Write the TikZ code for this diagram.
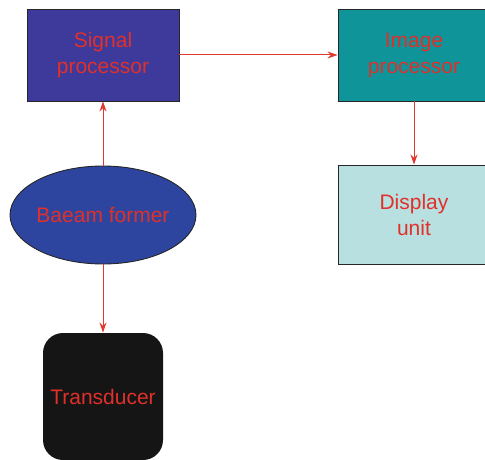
\documentclass[tikz,border=0pt]{standalone}
\usepackage{fontspec}
\setmainfont{Liberation Sans}
\usetikzlibrary{arrows.meta,shapes.geometric}
\definecolor{txtred}{HTML}{E0302A}
\definecolor{sigfill}{HTML}{3D3A9C}
\definecolor{imgfill}{HTML}{0E9499}
\definecolor{dispfill}{HTML}{B9E0E0}
\definecolor{beamfill}{HTML}{2E45A0}
\definecolor{trfill}{HTML}{151515}
\definecolor{arrred}{HTML}{E03A30}
\tikzset{
  blk/.style={draw=black!85, line width=0.9pt, inner sep=0pt, align=center,
    text=txtred, font=\fontsize{21}{26}\selectfont},
  conn/.style={draw=arrred, line width=1pt, -{Stealth[length=10pt,width=7pt]}}
}
\begin{document}
\begin{tikzpicture}[x=1pt,y=-1pt]
\useasboundingbox (0,0) rectangle (485,460);
\node[blk, fill=sigfill, minimum width=152pt, minimum height=92pt] (sig) at (103,55) {Signal\\processor};
\node[blk, fill=imgfill, minimum width=152pt, minimum height=92pt] (img) at (414,55) {Image\\processor};
\node[blk, fill=dispfill, minimum width=152pt, minimum height=99pt] (disp) at (414,214.5) {Display\\unit};
\node[blk, ellipse, inner xsep=-3pt, fill=beamfill, minimum width=186pt, minimum height=98pt] (beam) at (103,215) {Baeam former};
\node[blk, draw=none, fill=trfill, rounded corners=20pt, minimum width=120pt, minimum height=127pt] (tr) at (103,396.5) {Transducer};
\draw[conn] (sig.east) -- (img.west);
\draw[conn] (img.south) -- (disp.north);
\draw[conn] (beam.north) -- (sig.south);
\draw[conn] (beam.south) -- (tr.north);
\end{tikzpicture}
\end{document}
